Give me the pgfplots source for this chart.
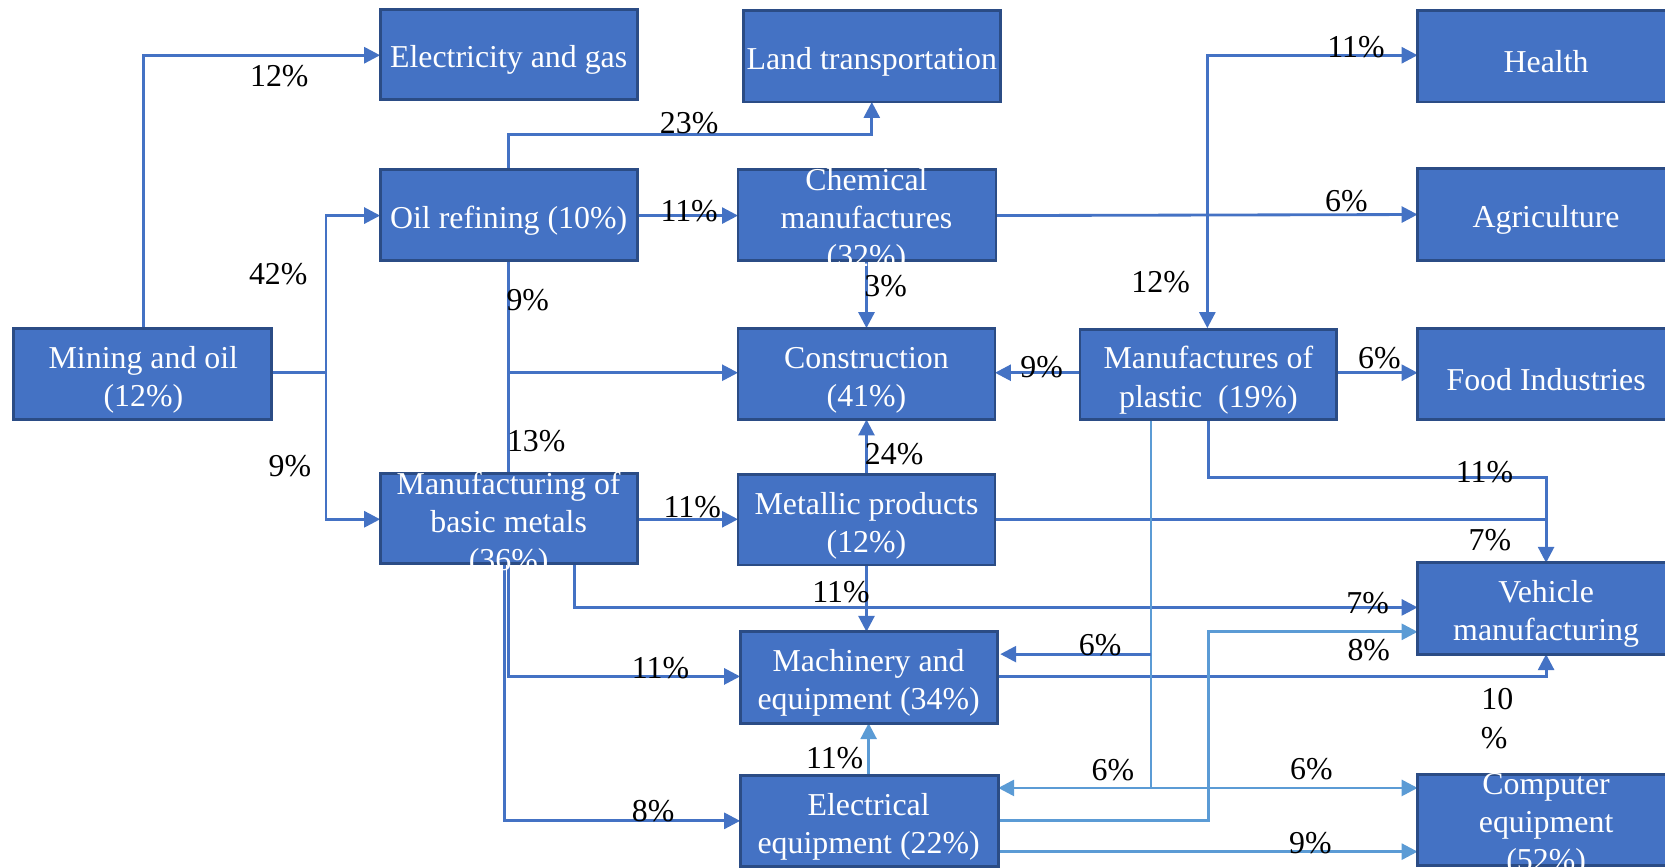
\documentclass[border=0pt]{standalone}
\usepackage{pgfplots}
\pgfplotsset{compat=1.18}
\usepackage{fontspec}
\setmainfont{Liberation Serif}
\usetikzlibrary{arrows.meta}
\definecolor{boxblue}{HTML}{4472C4}
\definecolor{boxedge}{HTML}{2B4C85}
\definecolor{linedark}{HTML}{4472C4}
\definecolor{linelight}{HTML}{5B9BD5}
\newcommand{\bx}[7]{\draw[box] (#1,#2) rectangle (#3,#4); \node[boxtext] at (#5,#6+4) {#7};}
\newcommand{\lab}[3]{\node[lab] at (#1,#2+1.5) {#3};}
\begin{document}
\begin{tikzpicture}[
  box/.style={fill=boxblue, draw=boxedge, line width=0.8pt},
  boxtext/.style={text=white, align=center, font=\fontsize{9}{10.8}\selectfont, inner sep=0pt},
  lab/.style={text=black, font=\fontsize{9}{10.8}\selectfont, inner sep=0pt},
  ln/.style={draw=linedark, line width=0.8pt},
  lnl/.style={draw=linelight, line width=0.8pt},
  arr/.style={-{Triangle[length=4.5pt,width=4.5pt]}}
]
\begin{axis}[hide axis, scale only axis, width=470.4pt, height=245.1pt,
  xmin=0, xmax=1568, ymin=0, ymax=817, y dir=reverse, clip=false]
\addplot[draw=none] coordinates {(0,0) (1568,817)};
% dark connectors
\draw[ln,arr] (135,309) -- (135,52) -- (358,52);
\draw[ln] (256,351) -- (307,351);
\draw[ln,arr] (307,351) -- (307,203) -- (358,203);
\draw[ln,arr] (307,351) -- (307,489) -- (358,489);
\draw[ln,arr] (479,160) -- (479,127) -- (821,127) -- (821,96);
\draw[ln,arr] (600,203) -- (695,203);
\draw[ln] (479,245) -- (479,446);
\draw[ln,arr] (479,351) -- (695,351);
\draw[ln,arr] (938,203) -- (1335,202);
\draw[ln,arr] (1137,203) -- (1137,52) -- (1335,52);
\draw[ln,arr] (1137,203) -- (1137,309);
\draw[ln,arr] (816,245) -- (816,309);
\draw[ln,arr] (1017,351) -- (937,351);
\draw[ln,arr] (1259,351) -- (1335,351);
\draw[ln,arr] (1138,395) -- (1138,450) -- (1456,450) -- (1456,530);
\draw[ln] (937,489) -- (1456,489);
\draw[ln,arr] (816,447) -- (816,395);
\draw[ln,arr] (600,489) -- (695,489);
\draw[ln,arr] (816,532) -- (816,595);
\draw[ln,arr] (541,531) -- (541,572) -- (1335,572);
\draw[ln,arr] (479,531) -- (479,637) -- (697,637);
\draw[ln,arr] (475,531) -- (475,773) -- (697,773);
\draw[ln,arr] (939,637) -- (1456,637) -- (1456,616);
% light connectors
\draw[lnl] (1084,395) -- (1084,742);
\draw[ln,arr] (1084,616) -- (942,616);
\draw[lnl,arr] (1084,742) -- (940,742);
\draw[lnl,arr] (1084,742) -- (1335,742);
\draw[lnl,arr] (940,773) -- (1138,773) -- (1138,595) -- (1335,595);
\draw[lnl,arr] (818,730) -- (818,681);
\draw[lnl,arr] (940,802) -- (1335,802);
% boxes
\bx{358}{9}{600}{94}{479}{52}{Electricity and gas}
\bx{700}{10}{942}{96}{821}{54}{Land transportation}
\bx{1335}{10}{1600}{96}{1456}{54}{Health}
\bx{1335}{159}{1600}{245}{1456}{203}{Agriculture}
\bx{1335}{309}{1600}{395}{1456}{353}{Food Industries}
\bx{1335}{530}{1600}{616}{1456}{574}{Vehicle\\manufacturing}
\bx{1335}{729}{1600}{815}{1456}{773}{Computer\\equipment\\(52\%)}
\bx{13}{309}{256}{395}{135}{354}{Mining and oil\\(12\%)}
\bx{358}{160}{600}{245}{479}{204}{Oil refining (10\%)}
\bx{358}{446}{600}{531}{479}{490}{Manufacturing of\\basic metals\\(36\%)}
\bx{695}{160}{938}{245}{816}{204}{Chemical\\manufactures\\(32\%)}
\bx{695}{309}{937}{395}{816}{354}{Construction\\(41\%)}
\bx{1017}{310}{1259}{395}{1138}{354}{Manufactures of\\plastic\ \ (19\%)}
\bx{695}{447}{937}{532}{816}{491}{Metallic products\\(12\%)}
\bx{697}{595}{939}{681}{818}{639}{Machinery and\\equipment (34\%)}
\bx{697}{730}{940}{816}{818}{775}{Electrical\\equipment (22\%)}
% labels
\lab{263}{70}{12\%}
\lab{262}{257}{42\%}
\lab{273}{437}{9\%}
\lab{649}{114}{23\%}
\lab{649}{197}{11\%}
\lab{497}{281}{9\%}
\lab{505}{414}{13\%}
\lab{1277}{43}{11\%}
\lab{1268}{188}{6\%}
\lab{1093}{264}{12\%}
\lab{834}{268}{3\%}
\lab{981}{344}{9\%}
\lab{1299}{336}{6\%}
\lab{1398}{443}{11\%}
\lab{1403}{507}{7\%}
\lab{842}{426}{24\%}
\lab{652}{476}{11\%}
\lab{792}{556}{11\%}
\lab{1288}{566}{7\%}
\lab{622}{628}{11\%}
\lab{615}{762}{8\%}
\lab{1410}{657}{10}
\lab{1407}{694}{\%}
\lab{1036}{606}{6\%}
\lab{1048}{724}{6\%}
\lab{1235}{723}{6\%}
\lab{1289}{611}{8\%}
\lab{786}{712}{11\%}
\lab{1234}{792}{9\%}
\end{axis}
\pgfresetboundingbox
\path[use as bounding box] (current axis.south west) rectangle (current axis.north east);
\end{tikzpicture}
\end{document}
